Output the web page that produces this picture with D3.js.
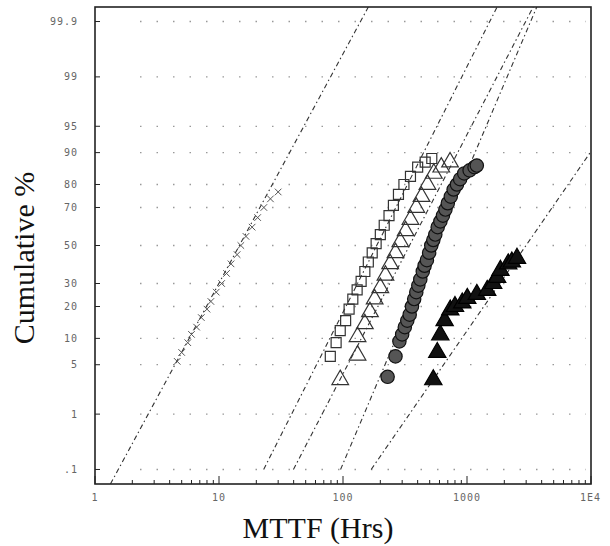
<!DOCTYPE html>
<html>
<head>
<meta charset="utf-8">
<script src="https://cdn.jsdelivr.net/npm/d3@7"></script>
<style>
  body { margin: 0; background: #fff; }
  .tick-label { font-family: "DejaVu Sans Mono", monospace; font-size: 10px; fill: #666; letter-spacing: 1px; }
  .title { font-family: "Liberation Serif", "Times New Roman", serif; font-size: 30px; fill: #111; }
</style>
</head>
<body>
<script>
"use strict"

// Lognormal probability plot: cumulative % vs MTTF

var width = 610
var height = 546
var margin = {top: 7, right: 19, bottom: 62, left: 95}

var probTicks = [0.1, 1, 5, 10, 20, 30, 50, 70, 80, 90, 95, 99, 99.9]
var probLabels = [".1", "1", "5", "10", "20", "30", "50", "70", "80", "90", "95", "99", "99.9"]
var timeTicks = [1, 10, 100, 1000, 10000]
var timeLabels = ["1", "10", "100", "1000", "1E4"]

// fitted lines: median hours, sigma (log10 units), lowest % drawn
var fitMedian = [14.6, 187, 344, 558, 2990]
var fitSigma = [0.316, 0.295, 0.303, 0.248, 0.404]
var fitStart = [0.05, 0.1, 0.1, 0.1, 0.1]

// [hours, cumulative %]
var smallMarks = [
  [4.6, 5.5], [5.0, 7], [5.6, 9], [6.0, 11], [6.6, 13], [7.2, 16], [8.0, 19],
  [8.6, 22], [9.5, 26], [10.5, 30], [11.5, 35], [12.5, 40], [14, 45], [15, 50],
  [16.5, 55], [18.5, 60], [20.5, 65], [23, 70], [26, 74], [30, 77]
]
var openSquares = [
  [79, 6.3], [88, 9], [95, 12], [105, 15], [112, 19], [120, 23], [130, 27],
  [140, 31], [150, 36], [160, 41], [172, 46], [185, 51], [200, 56], [215, 61],
  [235, 66], [255, 71], [280, 76], [310, 80], [350, 83], [400, 86], [460, 87.5],
  [520, 88.5]
]
var openTriangles = [
  [95, 3.2], [131, 6.5], [131, 10.4], [150, 14], [165, 18], [180, 23], [200, 28],
  [220, 34], [240, 40], [265, 46], [290, 52], [320, 58], [350, 64], [390, 70],
  [430, 75], [480, 80], [540, 84], [620, 86], [730, 87.5]
]
var filledCircles = [
  [229, 3.5], [265, 6.3], [285, 9.3], [300, 11], [315, 13], [330, 15], [345, 17],
  [360, 20], [375, 23], [390, 26], [405, 29], [420, 32], [440, 36], [455, 39],
  [475, 42], [495, 46], [515, 50], [535, 53], [555, 56], [580, 60], [610, 63],
  [640, 66], [670, 69], [700, 72], [740, 75], [780, 78], [830, 80], [880, 82],
  [950, 84], [1050, 85], [1150, 86], [1200, 86.5]
]
var filledTriangles = [
  [535, 3.2], [576, 7], [609, 10.9], [660, 15], [733, 18.7], [800, 20],
  [916, 21.4], [1005, 23.3], [1200, 25], [1455, 26.8], [1625, 30], [1750, 33],
  [1860, 36.6], [2150, 40], [2300, 41], [2530, 43]
]

// inverse standard normal (Acklam)
function probit(p) {
  var a = [-39.69683028665376, 220.9460984245205, -275.9285104469687,
    138.3577518672690, -30.66479806614716, 2.506628277459239]
  var b = [-54.47609879822406, 161.5858368580409, -155.6989798598866,
    66.80131188771972, -13.28068155288572]
  var c = [-0.007784894002430293, -0.3223964580411365, -2.400758277161838,
    -2.549732539343734, 4.374664141464968, 2.938163982698783]
  var d = [0.007784695709041462, 0.3224671290700398, 2.445134137142996,
    3.754408661907416]
  var q, r
  if (p < 0.02425) {
    q = Math.sqrt(-2 * Math.log(p))
    return (((((c[0]*q+c[1])*q+c[2])*q+c[3])*q+c[4])*q+c[5]) /
      ((((d[0]*q+d[1])*q+d[2])*q+d[3])*q+1)
  }
  if (p > 1 - 0.02425) {
    q = Math.sqrt(-2 * Math.log(1 - p))
    return -(((((c[0]*q+c[1])*q+c[2])*q+c[3])*q+c[4])*q+c[5]) /
      ((((d[0]*q+d[1])*q+d[2])*q+d[3])*q+1)
  }
  q = p - 0.5
  r = q * q
  return (((((a[0]*r+a[1])*r+a[2])*r+a[3])*r+a[4])*r+a[5])*q /
    (((((b[0]*r+b[1])*r+b[2])*r+b[3])*r+b[4])*r+1)
}

var x = d3.scaleLog()
  .domain([1, 10000])
  .range([margin.left, width - margin.right])

var z = d3.scaleLinear()
  .domain([probit(0.0005), probit(0.9995)])
  .range([height - margin.bottom, margin.top])

function y(pct) { return z(probit(pct / 100)) }

var svg = d3.select("body").append("svg")
  .attr("width", width)
  .attr("height", height)

svg.append("clipPath").attr("id", "plot")
  .append("rect")
    .attr("x", margin.left)
    .attr("y", margin.top)
    .attr("width", width - margin.left - margin.right)
    .attr("height", height - margin.top - margin.bottom)

// faint, sparse dotted grid (scanned look)
svg.append("g")
  .selectAll("line")
  .data(probTicks)
  .enter().append("line")
    .attr("x1", margin.left + 45)
    .attr("x2", width - margin.right - 5)
    .attr("y1", y)
    .attr("y2", y)
    .attr("stroke", "#999")
    .attr("stroke-width", 1.3)
    .attr("stroke-dasharray", "1.5,15")

// fitted lines
var fits = fitMedian.map(function(m, i) {
  return [fitStart[i], 100 - 0.05].map(function(p) {
    return [Math.pow(10, Math.log10(m) + fitSigma[i] * probit(p / 100)), p]
  })
})

var line = d3.line()
  .x(function(d) { return x(d[0]) })
  .y(function(d) { return y(d[1]) })

svg.append("g")
  .attr("clip-path", "url(#plot)")
  .selectAll("path")
  .data(fits)
  .enter().append("path")
    .attr("d", line)
    .attr("fill", "none")
    .attr("stroke", "#333")
    .attr("stroke-width", 1.1)
    .attr("stroke-dasharray", "5,3,1.5,3")

function marks(data, type, size, fill, stroke, sw) {
  svg.append("g")
    .selectAll("path")
    .data(data)
    .enter().append("path")
      .attr("transform", function(d) {
        return "translate(" + x(d[0]) + "," + y(d[1]) + ")"
      })
      .attr("d", d3.symbol().type(type).size(size))
      .attr("fill", fill)
      .attr("stroke", stroke)
      .attr("stroke-width", sw)
}

marks(smallMarks, d3.symbolTimes || d3.symbolCross, 30, "none", "#555", 1)
marks(openSquares, d3.symbolSquare, 100, "none", "#333", 1.2)
marks(openTriangles, d3.symbolTriangle, 120, "none", "#333", 1.2)
marks(filledCircles, d3.symbolCircle, 140, "#555", "#111", 1.2)
marks(filledTriangles, d3.symbolTriangle, 130, "#111", "#000", 1.2)

// frame
var bottom = height - margin.bottom
svg.append("rect")
  .attr("x", margin.left)
  .attr("y", margin.top)
  .attr("width", width - margin.left - margin.right)
  .attr("height", bottom - margin.top)
  .attr("fill", "none")
  .attr("stroke", "#222")
  .attr("stroke-width", 1.6)

// x ticks (log minor)
var minor = []
timeTicks.slice(0, -1).forEach(function(t) {
  d3.range(1, 10).forEach(function(k) { minor.push(t * k) })
})
minor.push(10000)
svg.append("g")
  .selectAll("line")
  .data(minor)
  .enter().append("line")
    .attr("x1", x)
    .attr("x2", x)
    .attr("y1", bottom)
    .attr("y2", function(d) { return timeTicks.indexOf(d) >= 0 ? bottom - 8 : bottom - 4 })
    .attr("stroke", "#222")

// y ticks
svg.append("g")
  .selectAll("line")
  .data(probTicks)
  .enter().append("line")
    .attr("x1", margin.left)
    .attr("x2", margin.left + 5)
    .attr("y1", y)
    .attr("y2", y)
    .attr("stroke", "#222")

svg.append("g")
  .selectAll("text")
  .data(timeTicks)
  .enter().append("text")
    .attr("class", "tick-label")
    .attr("x", x)
    .attr("y", bottom + 17)
    .attr("text-anchor", function(d, i) { return i === timeTicks.length - 1 ? "end" : "middle" })
    .attr("dx", function(d, i) { return i === timeTicks.length - 1 ? 10 : 0 })
    .text(function(d, i) { return timeLabels[i] })

svg.append("g")
  .selectAll("text")
  .data(probTicks)
  .enter().append("text")
    .attr("class", "tick-label")
    .attr("x", margin.left - 17)
    .attr("y", y)
    .attr("dy", "0.35em")
    .attr("text-anchor", "end")
    .text(function(d, i) { return probLabels[i] })

svg.append("text")
  .attr("class", "title")
  .attr("x", 318)
  .attr("y", height - 8)
  .attr("text-anchor", "middle")
  .text("MTTF (Hrs)")

svg.append("text")
  .attr("class", "title")
  .attr("transform", "translate(34," + 258 + ") rotate(-90)")
  .attr("text-anchor", "middle")
  .text("Cumulative %")
</script>
</body>
</html>
